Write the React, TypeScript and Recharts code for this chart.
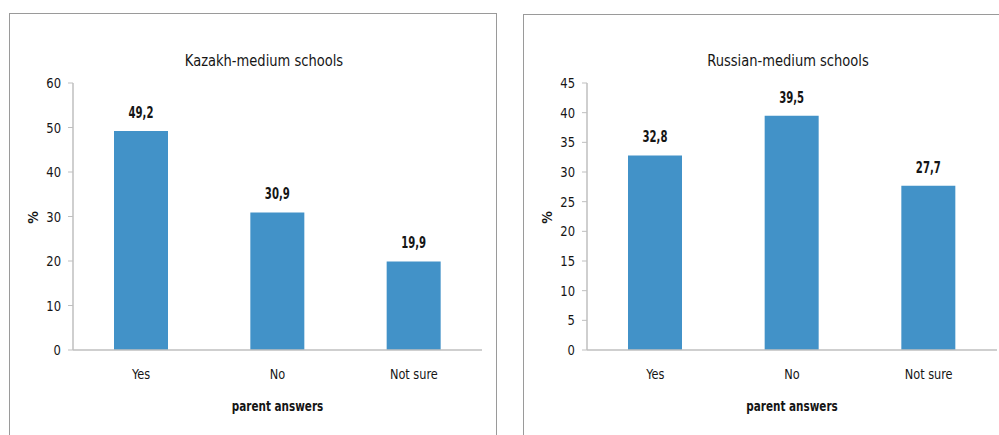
import React from "react";
import { BarChart, Bar, XAxis, YAxis, LabelList, Label } from "recharts";

const categories = ["Yes", "No", "Not sure"];
const kazakhValues = [49.2, 30.9, 19.9];
const russianValues = [32.8, 39.5, 27.7];
const kazakhTicks = [0, 10, 20, 30, 40, 50, 60];
const russianTicks = [0, 5, 10, 15, 20, 25, 30, 35, 40, 45];

const FONT = "'DejaVu Sans Condensed', 'DejaVu Sans', sans-serif";
const BAR = "#4292C8";
const AXIS = "#BFBFBF";
const TEXT = "#151515";

const fmt = (v: any) => String(v).replace(".", ",");

function SText({ x, y, sx, anchor, size, bold, children }: any) {
  return (
    <text
      transform={`translate(${x} ${y}) scale(${sx} 1)`}
      x={0}
      y={0}
      textAnchor={anchor}
      fontFamily={FONT}
      fontSize={size}
      fontWeight={bold ? "bold" : "normal"}
      fill={TEXT}
    >
      {children}
    </text>
  );
}

const XTick = (p: any) => (
  <SText x={p.x} y={p.y + 12} sx={0.9} anchor="middle" size={14}>
    {p.payload.value}
  </SText>
);

const YTick = (p: any) => (
  <SText x={p.x} y={p.y + 5} sx={0.92} anchor="end" size={14}>
    {p.payload.value}
  </SText>
);

const ValueLabel = (p: any) => (
  <SText x={p.x + p.width / 2} y={p.y - 13} sx={0.75} anchor="middle" size={15} bold>
    {fmt(p.value)}
  </SText>
);

type PanelProps = {
  values: number[];
  ticks: number[];
  left: number;
  width: number;
  marginLeft: number;
  marginRight: number;
};

function Panel({ values, ticks, left, width, marginLeft, marginRight }: PanelProps) {
  const data = categories.map((c, i) => ({ name: c, value: values[i] }));
  return (
    <div style={{ position: "absolute", left, top: 0 }}>
      <BarChart
        width={width}
        height={435}
        data={data}
        margin={{ top: 83, right: marginRight, bottom: 0, left: 0 }}
        barSize={54}
      >
        <XAxis
          dataKey="name"
          height={85}
          tickLine={false}
          tickSize={0}
          tickMargin={17}
          axisLine={{ stroke: AXIS, strokeWidth: 1.5 }}
          tick={<XTick />}
        >
          <Label
            content={(p: any) => {
              const vb = p.viewBox;
              return (
                <SText x={vb.x + vb.width / 2} y={vb.y + 61} sx={0.8} anchor="middle" size={14.5} bold>
                  parent answers
                </SText>
              );
            }}
          />
        </XAxis>
        <YAxis
          width={marginLeft}
          domain={[0, ticks[ticks.length - 1]]}
          ticks={ticks}
          interval={0}
          tickSize={5}
          tickMargin={7}
          tickLine={{ stroke: AXIS }}
          axisLine={{ stroke: AXIS, strokeWidth: 1.5 }}
          tick={<YTick />}
        >
          <Label
            content={(p: any) => {
              const vb = p.viewBox;
              const cx = vb.x + vb.width - 40;
              const cy = vb.y + vb.height / 2 + 1;
              return (
                <text
                  x={cx}
                  y={cy}
                  transform={`rotate(-90 ${cx} ${cy})`}
                  textAnchor="middle"
                  dominantBaseline="central"
                  fontFamily={FONT}
                  fontSize={14}
                  fontWeight="bold"
                  fill={TEXT}
                >
                  %
                </text>
              );
            }}
          />
        </YAxis>
        <Bar dataKey="value" fill={BAR} isAnimationActive={false}>
          <LabelList dataKey="value" content={<ValueLabel />} />
        </Bar>
      </BarChart>
    </div>
  );
}

const titleStyle: React.CSSProperties = {
  position: "absolute",
  top: 51,
  width: 260,
  textAlign: "center",
  fontSize: 16.5,
  color: TEXT,
  lineHeight: "20px",
  fontFamily: FONT,
  transform: "scaleX(0.88)",
  whiteSpace: "nowrap",
};

export default function App() {
  return (
    <div
      style={{
        position: "absolute",
        left: 0,
        top: 0,
        width: 999,
        height: 435,
        overflow: "hidden",
        background: "#fff",
        fontFamily: FONT,
      }}
    >
      <div
        style={{
          position: "absolute",
          left: 9,
          top: 13,
          width: 486,
          height: 440,
          border: "1.5px solid #9a9a9a",
        }}
      />
      <div
        style={{
          position: "absolute",
          left: 523,
          top: 14,
          width: 500,
          height: 440,
          border: "1.5px solid #9a9a9a",
        }}
      />
      <Panel values={kazakhValues} ticks={kazakhTicks} left={0} width={500} marginLeft={73} marginRight={18} />
      <Panel values={russianValues} ticks={russianTicks} left={500} width={499} marginLeft={87} marginRight={2} />
      <div style={{ ...titleStyle, left: 134 }}>Kazakh-medium schools</div>
      <div style={{ ...titleStyle, left: 658 }}>Russian-medium schools</div>
    </div>
  );
}
